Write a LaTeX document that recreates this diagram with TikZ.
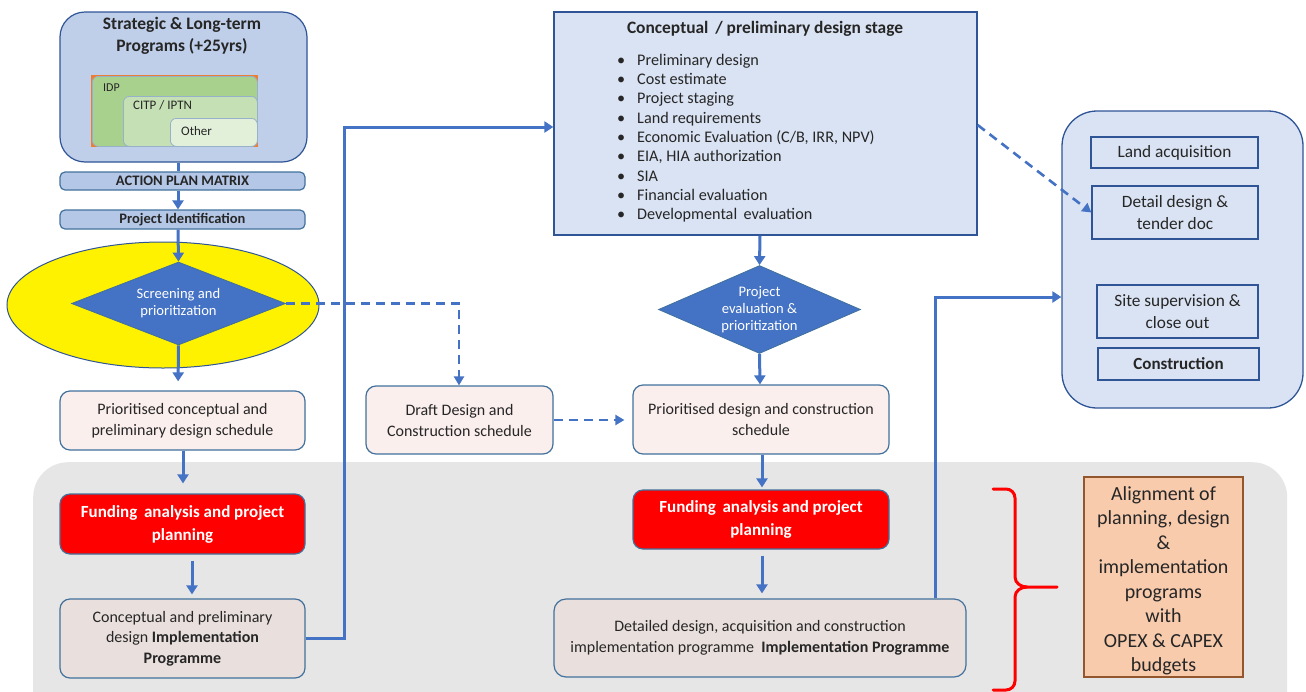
\documentclass[tikz,border=0pt]{standalone}
\usepackage{fontspec}
\setmainfont{Carlito}
\usetikzlibrary{shapes.geometric,arrows.meta,calc}

\definecolor{lineblue}{HTML}{4472C4}
\definecolor{edgeblue}{HTML}{41719C}
\definecolor{navy}{HTML}{2F5597}
\definecolor{paleblue}{HTML}{DAE3F3}
\definecolor{stratblue}{HTML}{BFCFEA}
\definecolor{barblue}{HTML}{B4C7E7}
\definecolor{pinkbox}{HTML}{FBEFEE}
\definecolor{implbox}{HTML}{E9DFDD}
\definecolor{panelgrey}{HTML}{E7E6E6}
\definecolor{peach}{HTML}{F8CBAD}
\definecolor{rust}{HTML}{94562C}
\definecolor{idpgreen}{HTML}{A9D18E}
\definecolor{citpgreen}{HTML}{C5E0B4}
\definecolor{othergreen}{HTML}{E2F0D9}
\definecolor{idporange}{HTML}{ED7D31}
\definecolor{inktext}{HTML}{262626}

\tikzset{
  box/.style={draw=edgeblue, line width=1.2pt, rounded corners=10pt, align=center,
    inner sep=0pt, text=inktext, font=\fontsize{16}{21}\selectfont},
  sized/.style 2 args={minimum width=#1pt, minimum height=#2pt},
  squarebox/.style={draw=navy, line width=1.3pt, fill=paleblue, align=center,
    inner sep=0pt, text=inktext, font=\fontsize{17.3}{21.5}\selectfont},
  fundbox/.style={box, fill=red, text=white, font=\bfseries\fontsize{17}{23}\selectfont},
  decision/.style={diamond, fill=lineblue, draw=edgeblue, line width=0.8pt, inner sep=0pt,
    text=white, align=center, font=\fontsize{14.6}{17}\selectfont},
  nest/.style={draw=edgeblue!55, line width=0.8pt, rounded corners=6pt, inner sep=0pt, anchor=north west},
  tag/.style={anchor=west, inner sep=0pt, text=inktext, font=\fontsize{12}{13}\selectfont},
  flow/.style={draw=lineblue, line width=3pt, -{Triangle[width=11pt,length=9pt]}},
  dflow/.style={draw=lineblue, line width=2.6pt, dash pattern=on 9pt off 6pt, -{Triangle[width=10pt,length=9pt]}},
  link/.style={draw=lineblue, line width=3pt},
  brace/.style={draw=red, line width=3pt, line cap=round, line join=round}
}

\begin{document}
\begin{tikzpicture}[x=1pt,y=-1pt]
\useasboundingbox (0,0) rectangle (1306,691);
\clip (0,0) rectangle (1306,691);

% grey band behind the funding / implementation rows
\node[fill=panelgrey, rounded corners=35pt, minimum width=1254pt, minimum height=290pt,
  inner sep=0pt, anchor=north west] (panel) at (33,462) {};

% column guides
\coordinate (cA) at (178,0);
\coordinate (cB) at (183,0);
\coordinate (cC) at (192,0);
\coordinate (cD) at (459,0);
\coordinate (cE) at (760,0);
\coordinate (cF) at (762,0);
\coordinate (cG) at (935,0);
\coordinate (cH) at (344,0);
\coordinate (rA) at (0,127);
\coordinate (rB) at (0,638);
\coordinate (rC) at (0,297);

% ---------------- left column ----------------
\node[box, fill=stratblue, draw=navy, rounded corners=25pt, sized={247}{150}] (strat) at (183.5,87) {};
\node[inner sep=0pt, align=center, text=inktext, font=\bfseries\fontsize{17.5}{22}\selectfont]
  (strattitle) at (182,36) {Strategic \& Long-term\\Programs (+25yrs)};
\node[fill=idporange, minimum width=167pt, minimum height=72pt, inner sep=0pt, anchor=north west] (idpframe) at (91,75) {};
\node[nest, fill=idpgreen, minimum width=165pt, minimum height=70pt] (idp) at (92,76) {};
\node[nest, fill=citpgreen, minimum width=134pt, minimum height=50pt] (citp) at (123,96) {};
\node[nest, fill=othergreen, minimum width=87pt, minimum height=28pt] (other) at (170,118) {};
\node[tag] (idptxt) at (103,88) {IDP};
\node[tag, font=\fontsize{13}{14}\selectfont] (citptxt) at (133,105) {CITP / IPTN};
\node[tag, font=\fontsize{13}{14}\selectfont] (othertxt) at (181,131) {Other};

\node[box, fill=barblue, rounded corners=5pt, sized={245}{18}, font=\bfseries\fontsize{14.5}{15}\selectfont] (apm) at (182.5,181) {ACTION PLAN MATRIX};
\node[box, fill=barblue, rounded corners=5pt, sized={245}{19}, font=\bfseries\fontsize{14.5}{15}\selectfont] (pid) at (182.5,219.5) {Project Identification};

\node[ellipse, draw=navy, line width=1pt, fill=yellow, minimum width=312pt, minimum height=126pt, inner sep=0pt] (halo) at (163,305) {};
\node[decision, aspect=2.6, sized={214}{83}] (screen) at (178.5,303.5) {Screening and\\prioritization};

\node[box, fill=pinkbox, sized={245}{59}] (pcs) at (182.5,420.5) {Prioritised conceptual and\\preliminary design schedule};
\node[fundbox, sized={245}{60}] (fund1) at (182.5,524) {Funding\, analysis and project\\planning};
\node[box, fill=implbox, sized={245}{79}, font=\fontsize{16}{20.5}\selectfont] (impl1) at (182.5,638.5)
  {Conceptual and preliminary\\design \textbf{Implementation}\\\textbf{Programme}};

% ---------------- middle column ----------------
\node[box, fill=pinkbox, sized={187}{68}] (draft) at (459.5,420) {Draft Design and\\Construction schedule};

\node[squarebox, sized={423}{223}] (stage) at (765.5,123.5) {};
\node[inner sep=0pt, text=inktext, font=\bfseries\fontsize{17.4}{20}\selectfont] (stagetitle) at (765,29) {Conceptual\, / preliminary design stage};
\foreach \txt [count=\i] in {Preliminary design, Cost estimate, Project staging, Land requirements,
  {Economic Evaluation (C/B, IRR, NPV)}, {EIA, HIA authorization}, SIA, Financial evaluation,
  Developmental\, evaluation}{
  \node[anchor=base west, inner sep=0pt, text=inktext, font=\fontsize{16.2}{19}\selectfont] (dot\i) at (617,{46+19.3*\i}) {\textbullet};
  \node[anchor=base west, inner sep=0pt, text=inktext, font=\fontsize{16.2}{19}\selectfont] (item\i) at (637,{46+19.3*\i}) {\txt};
}

\node[decision, aspect=2.3, sized={202}{88}] (evalp) at (759.5,309.5) {Project\\evaluation \&\\prioritization};
\node[box, fill=pinkbox, sized={256}{69}] (pdc) at (761,419.5) {Prioritised design and construction\\schedule};
\node[fundbox, sized={256}{59}] (fund2) at (761,519.5) {Funding\, analysis and project\\planning};
\node[box, fill=implbox, sized={412}{78}, rounded corners=12pt] (impl2) at (760,638)
  {Detailed design, acquisition and construction\\implementation programme\ \ \textbf{Implementation Programme}};

% ---------------- right column ----------------
\node[squarebox, rounded corners=35pt, sized={241}{297}] (rpanel) at (1182.5,259.5) {};
\node[squarebox, sized={167}{31}] (land) at (1174.5,152.5) {Land acquisition};
\node[squarebox, sized={166}{53}] (detail) at (1175,212.5) {Detail design \&\\tender doc};
\node[squarebox, sized={161}{53}] (site) at (1177.5,311.5) {Site supervision \&\\close out};
\node[squarebox, sized={161}{32}, font=\bfseries\fontsize{17}{21}\selectfont] (constr) at (1178.5,364) {Construction};

\node[draw=rust, line width=1.2pt, fill=peach, sized={159}{200}, inner sep=0pt] (align) at (1163.5,577) {};
\node[inner sep=0pt, align=center, text=inktext, font=\fontsize{20}{24.5}\selectfont] (aligntext) at (1163.5,581)
  {Alignment of\\planning, design\\\&\\implementation\\programs\\with\\OPEX \& CAPEX\\budgets};

% red brace grouping the lower band
\draw[brace] (993,489) -- (1006,489) to[out=0,in=90] (1015,498) -- (1015,577)
  to[out=-90,in=180] (1027,587) -- (1057,587);
\draw[brace] (1027,587) to[out=180,in=90] (1015,597) -- (1015,681)
  to[out=-90,in=0] (1006,690) -- (993,690);

% ---------------- connectors ----------------
\draw[link] (strat.south -| cA) -- (apm.north -| cA);
\draw[flow] (apm.south -| cA) -- (pid.north -| cA);
\draw[flow] (pid.south -| cA) -- (screen.north);
\draw[flow, shorten >=9pt] (screen.south) -- (pcs.north -| cA);
\draw[flow, shorten >=10pt] (pcs.south -| cB) -- (fund1.north -| cB);
\draw[flow, shorten <=6pt, shorten >=4pt] (fund1.south -| cC) -- (impl1.north -| cC);
\draw[flow] (impl1.east |- rB) -- (cH |- rB) -- (cH |- rA) -- (stage.west |- rA);

\draw[dflow] (screen.east) -- (cD |- screen.east) -- (draft.north -| cD);
\draw[dflow, shorten >=8pt] (draft.east) -- (pdc.west |- draft.east);

\draw[flow] (stage.south -| cE) -- (evalp.north);
\draw[flow] (evalp.south) -- (pdc.north -| cE);
\draw[flow, shorten >=2pt] (pdc.south -| cF) -- (fund2.north -| cF);
\draw[flow, shorten <=6pt, shorten >=5pt] (fund2.south -| cF) -- (impl2.north -| cF);
\draw[flow] (impl2.north -| cG) -- (cG |- rC) -- (rpanel.west |- rC);
\draw[dflow] ([yshift=-1.5pt]stage.east) -- (detail.west);

\end{tikzpicture}
\end{document}
